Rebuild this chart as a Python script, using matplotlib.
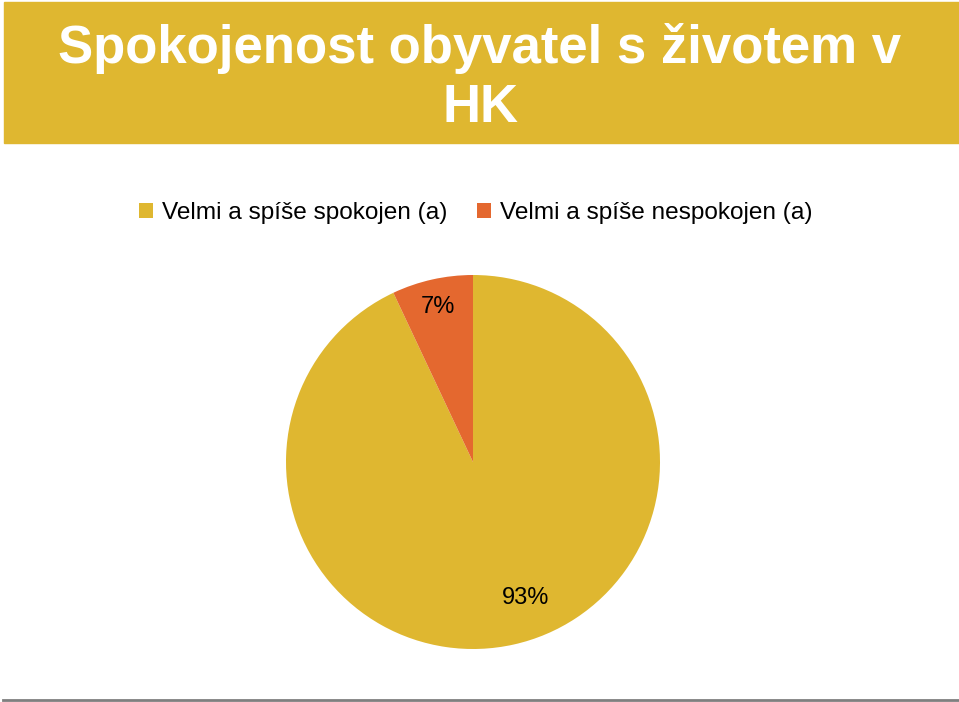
import numpy as np
import matplotlib
matplotlib.use('Agg')
import matplotlib.pyplot as plt
from matplotlib.patches import Rectangle

plt.rcParams['font.family'] = ['Liberation Sans', 'DejaVu Sans']

# data
title_lines = ['Spokojenost obyvatel s životem v', 'HK']
categories = ['Velmi a spíše spokojen (a)', 'Velmi a spíše nespokojen (a)']
values = [93, 7]
colors = ['#DFB730', '#E4682F']

W, H = 959, 702
fig = plt.figure(figsize=(W / 100, H / 100), dpi=100)

# title banner
banner = Rectangle((4 / W, 1 - 143 / H), 955 / W, 141 / H,
                   transform=fig.transFigure, color='#DFB730', zorder=0)
fig.patches.append(banner)
for line, base in zip(title_lines, [63, 122]):
    fig.text(480 / W, 1 - base / H, line, ha='center', va='baseline',
             color='white', fontsize=38, fontweight='bold')

# bottom rule
fig.add_artist(plt.Line2D([3 / W, 1], [1 - 700 / H] * 2,
                          transform=fig.transFigure, color='#7f7f7f', lw=2))

# pie
r = 187
cx, cy = 473, 462
ax = fig.add_axes([(cx - r) / W, 1 - (cy + r) / H, 2 * r / W, 2 * r / H])
wedges, texts = ax.pie(values, colors=colors, startangle=90, counterclock=False,
                       wedgeprops=dict(linewidth=0))
ax.set_aspect('auto')
ax.set_xlim(-1, 1)
ax.set_ylim(-1, 1)

# percentage labels
label_pos = [(0.78, -69), (0.85, 102.7)]
for v, (d, ang) in zip(values, label_pos):
    a = np.deg2rad(ang)
    ax.text(d * np.cos(a), d * np.sin(a), f'{v}%', ha='center', va='center',
            fontsize=17, color='black')

# legend
leg = fig.legend(wedges, categories, loc='center', ncol=2,
                 bbox_to_anchor=(476 / W, 1 - 213 / H), frameon=False,
                 fontsize=17.6, handlelength=0.55, handleheight=0.55,
                 handletextpad=0.4, columnspacing=1.2)

fig.savefig('out.png', dpi=100)
